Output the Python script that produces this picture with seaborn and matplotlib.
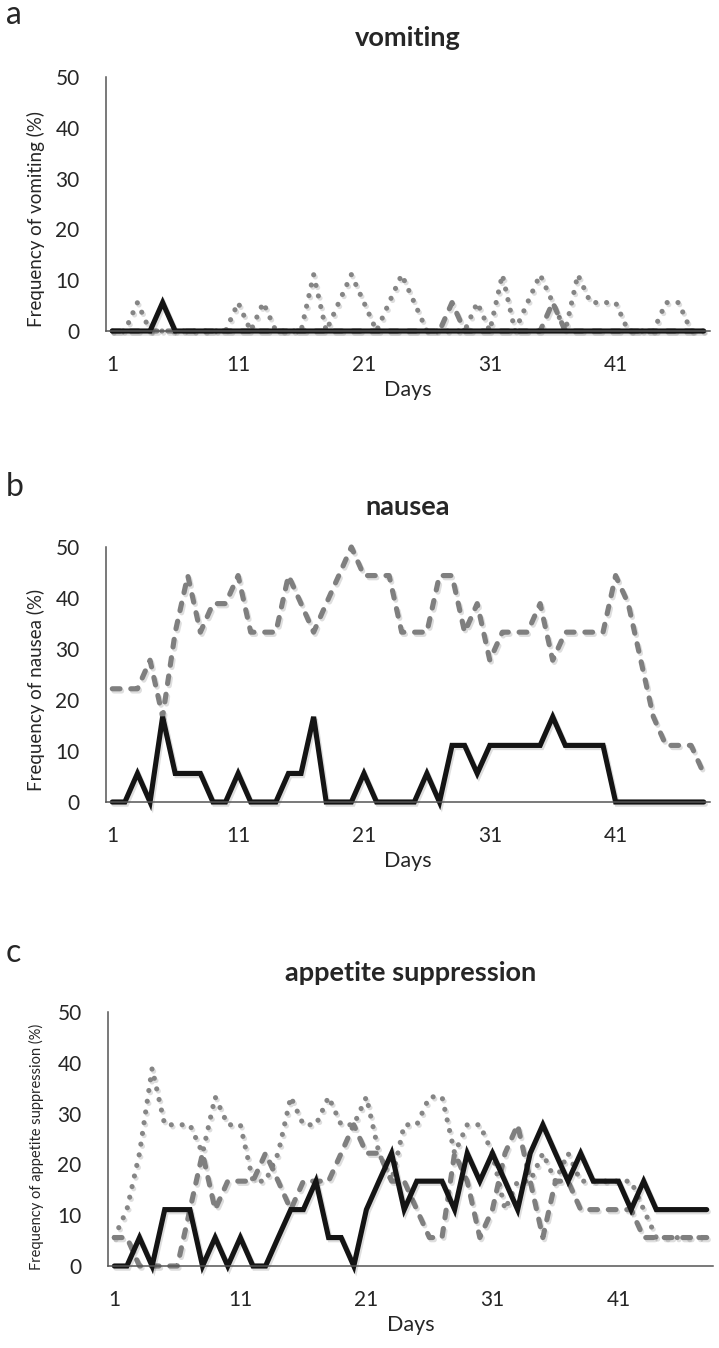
import numpy as np
import pandas as pd
import matplotlib
matplotlib.use("Agg")
import matplotlib.pyplot as plt
import matplotlib.patheffects as pe
import seaborn as sns

days = list(range(1, 49))
tick_days = [1, 11, 21, 31, 41]

# vomiting
vom_solid = [0, 0, 0, 0, 5.6, 0, 0, 0, 0, 0,
             0, 0, 0, 0, 0, 0, 0, 0, 0, 0,
             0, 0, 0, 0, 0, 0, 0, 0, 0, 0,
             0, 0, 0, 0, 0, 0, 0, 0, 0, 0,
             0, 0, 0, 0, 0, 0, 0, 0]
vom_dashed = [0, 0, 0, 0, 0, 0, 0, 0, 0, 0,
              0, 0, 0, 0, 0, 0, 0, 0, 0, 0,
              0, 0, 0, 0, 0, 0, 0, 5.6, 0, 0,
              0, 0, 0, 0, 0, 5.6, 0, 0, 0, 0,
              0, 0, 0, 0, 0, 0, 0, 0]
vom_dotted = [0, 0, 5.6, 0, 0, 0, 0, 0, 0, 0,
              5.6, 0, 5.6, 0, 0, 0, 11.1, 0, 5.6, 11.1,
              5.6, 0, 5.6, 11.1, 5.6, 0, 0, 0, 0, 5.6,
              0, 11.1, 0, 5.6, 11.1, 5.6, 0, 11.1, 5.6, 5.6,
              5.6, 0, 0, 0, 5.6, 5.6, 0, 0]

# nausea
nau_solid = [0, 0, 5.6, 0, 16.7, 5.6, 5.6, 5.6, 0, 0,
             5.6, 0, 0, 0, 5.6, 5.6, 16.7, 0, 0, 0,
             5.6, 0, 0, 0, 0, 5.6, 0, 11.1, 11.1, 5.6,
             11.1, 11.1, 11.1, 11.1, 11.1, 16.7, 11.1, 11.1, 11.1, 11.1,
             0, 0, 0, 0, 0, 0, 0, 0]
nau_dashed = [22.2, 22.2, 22.2, 27.8, 16.7, 33.3, 44.4, 33.3, 38.9, 38.9,
              44.4, 33.3, 33.3, 33.3, 44.4, 38.9, 33.3, 38.9, 44.4, 50,
              44.4, 44.4, 44.4, 33.3, 33.3, 33.3, 44.4, 44.4, 33.3, 38.9,
              27.8, 33.3, 33.3, 33.3, 38.9, 27.8, 33.3, 33.3, 33.3, 33.3,
              44.4, 38.9, 27.8, 16.7, 11.1, 11.1, 11.1, 5.6]

# appetite suppression
app_solid = [0, 0, 5.6, 0, 11.1, 11.1, 11.1, 0, 5.6, 0,
             5.6, 0, 0, 5.6, 11.1, 11.1, 16.7, 5.6, 5.6, 0,
             11.1, 16.7, 22.2, 11.1, 16.7, 16.7, 16.7, 11.1, 22.2, 16.7,
             22.2, 16.7, 11.1, 22.2, 27.8, 22.2, 16.7, 22.2, 16.7, 16.7,
             16.7, 11.1, 16.7, 11.1, 11.1, 11.1, 11.1, 11.1]
app_dashed = [5.6, 5.6, 0, 0, 0, 0, 11.1, 22.2, 11.1, 16.7,
              16.7, 16.7, 22.2, 16.7, 11.1, 16.7, 16.7, 16.7, 22.2, 27.8,
              22.2, 22.2, 16.7, 16.7, 11.1, 5.6, 5.6, 22.2, 16.7, 5.6,
              11.1, 22.2, 27.8, 16.7, 5.6, 16.7, 16.7, 11.1, 11.1, 11.1,
              11.1, 11.1, 5.6, 5.6, 5.6, 5.6, 5.6, 5.6]
app_dotted = [5.6, 11.1, 22.2, 38.9, 27.8, 27.8, 27.8, 22.2, 33.3, 27.8,
              27.8, 16.7, 16.7, 22.2, 33.3, 27.8, 27.8, 33.3, 27.8, 27.8,
              33.3, 22.2, 16.7, 27.8, 27.8, 33.3, 33.3, 22.2, 27.8, 27.8,
              22.2, 11.1, 16.7, 16.7, 22.2, 16.7, 22.2, 16.7, 16.7, 16.7,
              16.7, 16.7, 11.1, 5.6, 5.6, 5.6, 5.6, 5.6]

sns.set_style("white")
plt.rcParams['font.family'] = ['Lato', 'DejaVu Sans']

W, H = 719, 1348
fig = plt.figure(figsize=(W / 100, H / 100), dpi=100)

axis_col = '#555555'
text_col = '#262626'
shadow = [pe.SimpleLineShadow(offset=(1.2, -1.6), shadow_color='#000000', alpha=0.13), pe.Normal()]

styles = {
    'dotted': dict(color='#858585', dashes=(0.01, 2.1)),
    'dashed': dict(color='#7f7f7f', dashes=(1.5, 2.1)),
    'solid': dict(color='#141414', dashes=None),
}


def draw_panel(box, series, title, ylabel, ylab_size, ylab_y, title_y, letter, letter_y):
    left, top, right, bottom = box
    ax = fig.add_axes([left / W, 1 - bottom / H, (right - left) / W, (bottom - top) / H])
    for vals, kind in series:
        st = styles[kind]
        df = pd.DataFrame({'day': days, 'value': vals})
        sns.lineplot(data=df, x='day', y='value', ax=ax, color=st['color'],
                     linewidth=3.7, clip_on=False)
        line = ax.lines[-1]
        line.set_solid_joinstyle('miter')
        if st['dashes'] is not None:
            line.set_dashes(st['dashes'])
            line.set_dash_capstyle('round')
        line.set_path_effects(shadow)
    ax.set_xlim(0.5, 48.5)
    ax.set_ylim(0, 50)
    ax.set_yticks([0, 10, 20, 30, 40, 50])
    ax.set_xticks(tick_days)
    ax.set_xticklabels([str(d) for d in tick_days])
    ax.set_xticks([0.5, 10.5, 20.5, 30.5, 40.5], minor=True)
    ax.tick_params(axis='x', which='major', length=0, pad=17, labelsize=15, colors=text_col)
    ax.tick_params(axis='x', which='minor', length=5, width=1.2, color=axis_col, direction='out')
    ax.tick_params(axis='y', length=0, pad=19, labelsize=15, colors=text_col)
    for s in ['top', 'right']:
        ax.spines[s].set_visible(False)
    for s in ['left', 'bottom']:
        ax.spines[s].set_color(axis_col)
        ax.spines[s].set_linewidth(1.1)
    ax.set_xlabel('Days', fontsize=15.5, color=text_col)
    ax.xaxis.set_label_coords(0.5, -(380 - 331) / 254)
    ax.set_ylabel('')
    fig.text(36 / W, 1 - ylab_y / H, ylabel, rotation=90, ha='center', va='center',
             fontsize=ylab_size, color=text_col)
    fig.text((left + right) / 2 / W, 1 - title_y / H, title, ha='center', va='center',
             fontsize=19.5, fontweight='bold', color=text_col)
    fig.text(6 / W, 1 - letter_y / H, letter, ha='left', va='center', fontsize=23, color=text_col)
    return ax


draw_panel((106, 77, 710, 331),
           [(vom_dotted, 'dotted'), (vom_dashed, 'dashed'), (vom_solid, 'solid')],
           'vomiting', 'Frequency of vomiting (%)', 13.5, 219, 38, 'a', 15)
draw_panel((106, 547, 710, 802),
           [(nau_dashed, 'dashed'), (nau_solid, 'solid')],
           'nausea', 'Frequency of nausea (%)', 13.5, 690, 507, 'b', 487)
draw_panel((108, 1012, 713, 1266),
           [(app_dotted, 'dotted'), (app_dashed, 'dashed'), (app_solid, 'solid')],
           'appetite suppression', 'Frequency of appetite suppression (%)', 10.5, 1147, 973, 'c', 953)

fig.savefig('out.png', dpi=100)
